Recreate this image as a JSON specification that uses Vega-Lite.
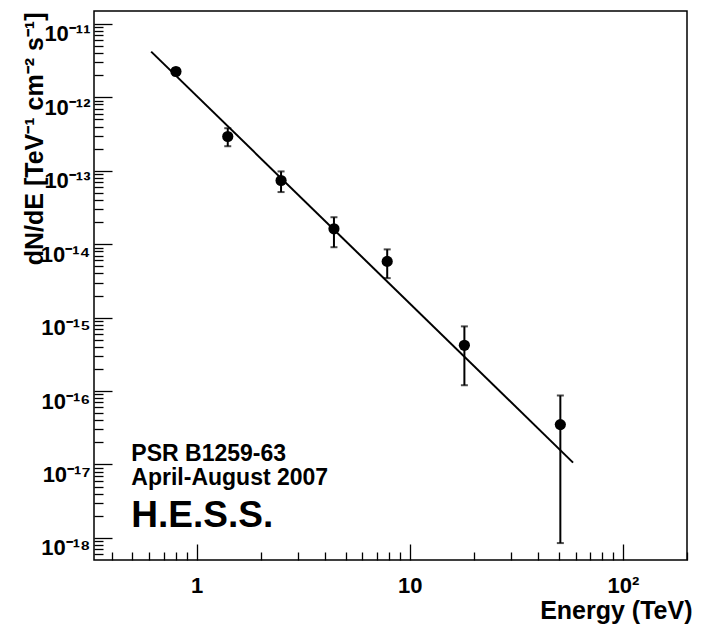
{
  "$schema": "https://vega.github.io/schema/vega-lite/v6.json",
  "width": 593,
  "height": 549,
  "autosize": {"type": "none"},
  "padding": {"left": 94, "top": 11, "right": 38, "bottom": 68},
  "background": "white",
  "config": {
    "view": {"stroke": "black", "strokeWidth": 1.5},
    "font": "Liberation Sans",
    "axis": {"grid": false, "domain": false, "tickColor": "black", "labelColor": "black", "titleColor": "black", "labelFont": "Liberation Sans", "titleFont": "Liberation Sans", "labelFontWeight": "bold", "titleFontWeight": "bold", "tickWidth": 1.3}
  },
  "datasets": {
    "points": [
      {"E": 0.80, "F": 2.25e-12, "lo": 2.0e-12, "hi": 2.5e-12},
      {"E": 1.40, "F": 2.93e-13, "lo": 2.16e-13, "hi": 3.8e-13},
      {"E": 2.49, "F": 7.38e-14, "lo": 5.13e-14, "hi": 9.8e-14},
      {"E": 4.41, "F": 1.62e-14, "lo": 9.1e-15, "hi": 2.33e-14},
      {"E": 7.84, "F": 5.83e-15, "lo": 3.45e-15, "hi": 8.5e-15},
      {"E": 18.05, "F": 4.2e-16, "lo": 1.2e-16, "hi": 7.6e-16},
      {"E": 50.9, "F": 3.49e-17, "lo": 8.5e-19, "hi": 8.7e-17}
    ],
    "fit": [
      {"E": 0.612, "F": 4.2e-12},
      {"E": 58.4, "F": 1.06e-17}
    ]
  },
  "layer": [
    {
      "data": {"name": "fit"},
      "mark": {"type": "line", "color": "black", "strokeWidth": 2},
      "encoding": {
        "x": {"field": "E", "type": "quantitative",
          "scale": {"type": "log", "domain": [0.33, 200], "nice": false},
          "axis": {"orient": "bottom", "values": [1, 10, 100], "tickSize": -16, "labelPadding": 31, "labelFontSize": 22, "labelBaseline": "top",
            "labelExpr": "datum.value >= 50 ? '10²' : datum.value >= 5 ? '10' : '1'",
            "title": "Energy (TeV)", "titleFontSize": 25, "titleX": 598, "titleY": 58, "titleAlign": "right", "titleBaseline": "alphabetic", "titleAnchor": "end"}},
        "y": {"field": "F", "type": "quantitative",
          "scale": {"type": "log", "domain": [5e-19, 1.5e-11], "nice": false},
          "axis": {"orient": "left", "values": [1e-18, 1e-17, 1e-16, 1e-15, 1e-14, 1e-13, 1e-12, 1e-11], "tickSize": -18, "labelPadding": 22, "labelFontSize": 22, "labelBaseline": "top", "labelAlign": "right",
            "labelExpr": "datum.value > 5e-12 ? '10⁻¹¹' : datum.value > 5e-13 ? '10⁻¹²' : datum.value > 5e-14 ? '10⁻¹³' : datum.value > 5e-15 ? '10⁻¹⁴' : datum.value > 5e-16 ? '10⁻¹⁵' : datum.value > 5e-17 ? '10⁻¹⁶' : datum.value > 5e-18 ? '10⁻¹⁷' : '10⁻¹⁸'",
            "title": "dN/dE [TeV⁻¹ cm⁻² s⁻¹]", "titleFontSize": 25, "titleAngle": -90, "titleX": -52, "titleY": 1, "titleAlign": "right", "titleBaseline": "alphabetic", "titleAnchor": "end"}}
      }
    },
    {
      "data": {"name": "points"},
      "mark": {"type": "rule", "color": "black", "strokeWidth": 2},
      "encoding": {
        "x": {"field": "E", "type": "quantitative",
          "scale": {"type": "log", "domain": [0.33, 200], "nice": false},
          "axis": {"orient": "bottom", "values": [0.4, 0.5, 0.6, 0.7, 0.8, 0.9, 2, 3, 4, 5, 6, 7, 8, 9, 20, 30, 40, 50, 60, 70, 80, 90, 200], "tickSize": -8, "labels": false, "title": null}},
        "y": {"field": "lo", "type": "quantitative",
          "scale": {"type": "log", "domain": [5e-19, 1.5e-11], "nice": false},
          "axis": {"orient": "left", "values": [6e-19, 7e-19, 8e-19, 9e-19,
            2e-18, 3e-18, 4e-18, 5e-18, 6e-18, 7e-18, 8e-18, 9e-18,
            2e-17, 3e-17, 4e-17, 5e-17, 6e-17, 7e-17, 8e-17, 9e-17,
            2e-16, 3e-16, 4e-16, 5e-16, 6e-16, 7e-16, 8e-16, 9e-16,
            2e-15, 3e-15, 4e-15, 5e-15, 6e-15, 7e-15, 8e-15, 9e-15,
            2e-14, 3e-14, 4e-14, 5e-14, 6e-14, 7e-14, 8e-14, 9e-14,
            2e-13, 3e-13, 4e-13, 5e-13, 6e-13, 7e-13, 8e-13, 9e-13,
            2e-12, 3e-12, 4e-12, 5e-12, 6e-12, 7e-12, 8e-12, 9e-12], "tickSize": -9, "labels": false, "title": null}},
        "y2": {"field": "hi"}
      }
    },
    {
      "data": {"name": "points"},
      "mark": {"type": "tick", "color": "black", "orient": "horizontal", "size": 7, "thickness": 2},
      "encoding": {
        "x": {"field": "E", "type": "quantitative", "scale": {"type": "log", "domain": [0.33, 200], "nice": false}, "axis": null},
        "y": {"field": "hi", "type": "quantitative", "scale": {"type": "log", "domain": [5e-19, 1.5e-11], "nice": false}, "axis": null}
      }
    },
    {
      "data": {"name": "points"},
      "mark": {"type": "tick", "color": "black", "orient": "horizontal", "size": 7, "thickness": 2},
      "encoding": {
        "x": {"field": "E", "type": "quantitative", "scale": {"type": "log", "domain": [0.33, 200], "nice": false}, "axis": null},
        "y": {"field": "lo", "type": "quantitative", "scale": {"type": "log", "domain": [5e-19, 1.5e-11], "nice": false}, "axis": null}
      }
    },
    {
      "data": {"name": "points"},
      "mark": {"type": "circle", "color": "black", "opacity": 1, "size": 125},
      "encoding": {
        "x": {"field": "E", "type": "quantitative", "scale": {"type": "log", "domain": [0.33, 200], "nice": false}, "axis": null},
        "y": {"field": "F", "type": "quantitative", "scale": {"type": "log", "domain": [5e-19, 1.5e-11], "nice": false}, "axis": null}
      }
    },
    {
      "data": {"values": [{}]},
      "mark": {"type": "text", "align": "left", "baseline": "alphabetic", "fontSize": 23, "lineHeight": 24, "fontWeight": "bold", "font": "Liberation Sans", "color": "black", "text": ["PSR B1259-63", "April-August 2007"]},
      "encoding": {
        "x": {"datum": 0.494, "type": "quantitative", "scale": {"type": "log", "domain": [0.33, 200], "nice": false}, "axis": null},
        "y": {"datum": 1.11e-17, "type": "quantitative", "scale": {"type": "log", "domain": [5e-19, 1.5e-11], "nice": false}, "axis": null}
      }
    },
    {
      "data": {"values": [{}]},
      "mark": {"type": "text", "align": "left", "baseline": "alphabetic", "fontSize": 37, "fontWeight": "bold", "font": "Liberation Sans", "color": "black", "text": "H.E.S.S."},
      "encoding": {
        "x": {"datum": 0.494, "type": "quantitative", "scale": {"type": "log", "domain": [0.33, 200], "nice": false}, "axis": null},
        "y": {"datum": 1.4e-18, "type": "quantitative", "scale": {"type": "log", "domain": [5e-19, 1.5e-11], "nice": false}, "axis": null}
      }
    }
  ],
  "resolve": {"axis": {"x": "independent", "y": "independent"}}
}
